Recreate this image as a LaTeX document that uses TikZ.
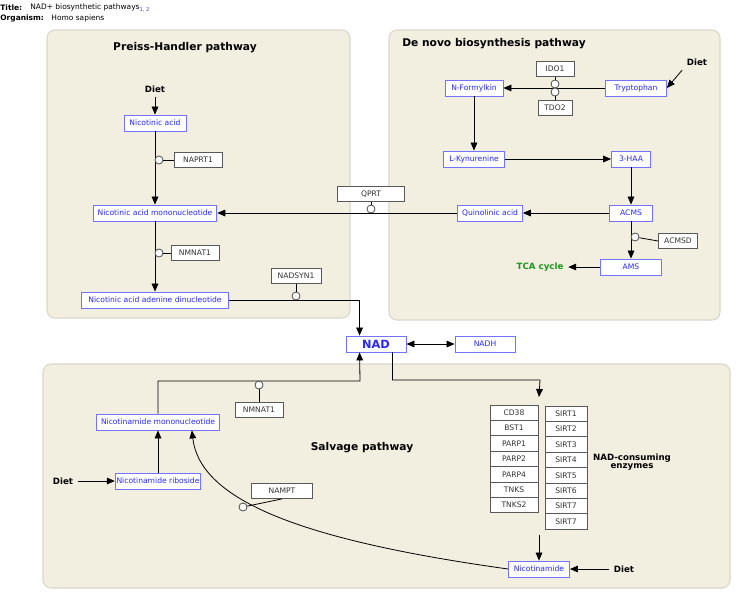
\documentclass[tikz,border=0pt]{standalone}
\usepackage{fontspec}
\setmainfont{DejaVu Sans}
\usetikzlibrary{arrows.meta, positioning}
\definecolor{panelfill}{RGB}{242,238,224}
\definecolor{paneldraw}{RGB}{218,214,204}
\definecolor{metblue}{RGB}{40,40,250}
\definecolor{metdraw}{RGB}{115,115,255}
\definecolor{tcagreen}{RGB}{30,150,30}
\definecolor{refblue}{RGB}{60,60,200}

\begin{document}
\begin{tikzpicture}[
    x=0.75pt, y=-0.75pt, line width=0.6pt,
    >={Triangle[length=6pt, width=5pt]},
    panel/.style={fill=panelfill, draw=paneldraw, line width=0.8pt, rounded corners=6pt},
    metab/.style={draw=metdraw, line width=0.65pt, fill=white, text=metblue, font=\fontsize{5.7}{7}\selectfont, minimum height=16*0.75pt, inner ysep=0pt},
    gene/.style={draw=black!65, fill=white, text=black!80, font=\fontsize{5.7}{7}\selectfont, minimum height=15*0.75pt, inner ysep=0pt},
    cat/.style={circle, draw=black!70, fill=white, inner sep=0pt, minimum size=8*0.75pt},
    head/.style={font=\bfseries\fontsize{8}{9.5}\selectfont},
    diet/.style={font=\bfseries\fontsize{6.5}{8}\selectfont},
    info/.style={anchor=west, font=\fontsize{5.6}{7}\selectfont, inner sep=0pt},
    wd/.style={minimum width=#1*0.75pt}
]
  \useasboundingbox (0,0) rectangle (742,600);

  % Header
  \node[info, font=\bfseries\fontsize{5.6}{7}\selectfont] (titlekey) at (0,8) {Title:};
  \node[info] (titleval) at (30,8) {NAD+ biosynthetic pathways\textsubscript{\color{refblue}1, 2}};
  \node[info, font=\bfseries\fontsize{5.6}{7}\selectfont] (orgkey) at (0,18) {Organism:};
  \node[info] (orgval) at (51,18) {Homo sapiens};

  % Panels
  \draw[panel] (47,30) rectangle (350,318);
  \draw[panel] (389,30) rectangle (720,320);
  \draw[panel] (43,364) rectangle (730,588);
  \node[head] (hPH) at (185,48) {Preiss-Handler pathway};
  \node[head] (hDN) at (494,44) {De novo biosynthesis pathway};
  \node[head] (hS) at (362,448) {Salvage pathway};

  % Metabolites
  \node[metab, wd=62] (na) at (155,123) {Nicotinic acid};
  \node[metab, wd=123] (namn) at (155,213) {Nicotinic acid mononucleotide};
  \node[metab, wd=147] (naad) at (155,300) {Nicotinic acid adenine dinucleotide};
  \node[metab, wd=58] (nfk) at (474,88) {N-Formylkin};
  \node[metab, wd=61] (trp) at (636,88) {Tryptophan};
  \node[metab, wd=61] (kyn) at (474,159) {L-Kynurenine};
  \node[metab, wd=39] (haa) at (631,159) {3-HAA};
  \node[metab, wd=43] (acms) at (631,213) {ACMS};
  \node[metab, wd=61] (qa) at (490,213) {Quinolinic acid};
  \node[metab, wd=61] (ams) at (631,267) {AMS};
  \node[metab, wd=60, font=\bfseries\fontsize{8.5}{10}\selectfont] (nad) at (376,344) {NAD};
  \node[metab, wd=60] (nadh) at (485,344) {NADH};
  \node[metab, wd=118] (nmn) at (158,422) {Nicotinamide mononucleotide};
  \node[metab, wd=85, inner xsep=1pt] (nr) at (158,481) {Nicotinamide riboside};
  \node[metab, wd=61] (nam) at (539,569) {Nicotinamide};

  % Enzymes
  \node[gene, wd=48] (naprt) at (198,160) {NAPRT1};
  \node[gene, wd=48] (nmnat) at (195,253) {NMNAT1};
  \node[gene, wd=50] (nadsyn) at (296,276) {NADSYN1};
  \node[gene, wd=67] (qprt) at (371,194) {QPRT};
  \node[gene, wd=38] (ido) at (555,69) {IDO1};
  \node[gene, wd=34] (tdo) at (555,108) {TDO2};
  \node[gene, wd=39] (acmsd) at (678,241) {ACMSD};
  \node[gene, wd=48] (nmnatS) at (259,410) {NMNAT1};
  \node[gene, wd=61] (nampt) at (282,491) {NAMPT};
  \foreach \g [count=\i] in {CD38, BST1, PARP1, PARP2, PARP4, TNKS, TNKS2}
    \node[gene, wd=48, minimum height=15.4*0.75pt] (cons-\i) at (514,{405+15.4*(\i-0.5)}) {\g};
  \foreach \g [count=\i] in {SIRT1, SIRT2, SIRT3, SIRT4, SIRT5, SIRT6, SIRT7, SIRT7}
    \node[gene, wd=42, minimum height=15.4*0.75pt] (sirt-\i) at (566,{406+15.4*(\i-0.5)}) {\g};
  \node[diet, align=center] (consumers) at (632,462) {NAD-consuming\\[-2pt]enzymes};

  % Labels
  \node[diet] (dietPH) at (155,89) {Diet};
  \node[diet] (dietDN) at (697,62) {Diet};
  \node[diet] (dietS) at (63,481) {Diet};
  \node[diet] (dietN) at (624,569) {Diet};
  \node[diet, text=tcagreen] (tca) at (540,267) {TCA cycle};

  % Preiss-Handler reactions
  \draw[->] (dietPH) -- (na);
  \draw[->] (na) -- (namn);
  \draw[->] (namn) -- (naad);
  \draw[->] (naad.east) -| ([xshift=10.5pt]nad.north west);
  \draw[->] (qa) -- (namn);

  % De novo reactions
  \draw[->] (dietDN.south west) -- (trp.east);
  \draw[->] (trp) -- (nfk);
  \draw[->] (nfk) -- (kyn);
  \draw[->] (kyn) -- (haa);
  \draw[->] (haa) -- (acms);
  \draw[->] (acms) -- (qa);
  \draw[->] (acms) -- (ams);
  \draw[->] (ams) -- (tca);

  % Salvage reactions
  \draw[<->] (nad) -- (nadh);
  \coordinate (nmnturn) at (360,381);
  \coordinate (consin) at (539,397);
  \coordinate (consout) at (539,535);
  \draw[->] (nmn.north) |- (nmnturn) -- ([xshift=10.5pt]nad.south west);
  \draw[->] ([xshift=-10.5pt]nad.south east) |- (540,380) -- (consin);
  \draw[->] (dietS) -- (nr);
  \draw[->] (nr) -- (nmn);
  \draw[->] (nam.west) .. controls (300,540) and (200,500) .. ([xshift=-21pt]nmn.south east);
  \draw[->] (consout) -- (nam);
  \draw[->] (dietN) -- (nam);

  % Catalysis
  \node[cat] (c-naprt) at (159,160) {};
  \node[cat] (c-nmnat) at (159,253) {};
  \node[cat] (c-nadsyn) at (296,296) {};
  \node[cat] (c-qprt) at (371,209) {};
  \node[cat] (c-ido) at (555,84) {};
  \node[cat] (c-tdo) at (555,92) {};
  \node[cat] (c-acmsd) at (635,237) {};
  \node[cat] (c-nmnatS) at (259,385) {};
  \node[cat] (c-nampt) at (243,507) {};
  \draw (c-naprt) -- (naprt);
  \draw (c-nmnat) -- (nmnat);
  \draw (c-nadsyn) -- (nadsyn);
  \draw (c-qprt) -- (qprt);
  \draw (c-ido) -- (ido);
  \draw (c-tdo) -- (tdo);
  \draw (c-acmsd) -- (acmsd.west);
  \draw (c-nmnatS) -- (nmnatS);
  \draw (c-nampt) -- (nampt.south);
\end{tikzpicture}
\end{document}
